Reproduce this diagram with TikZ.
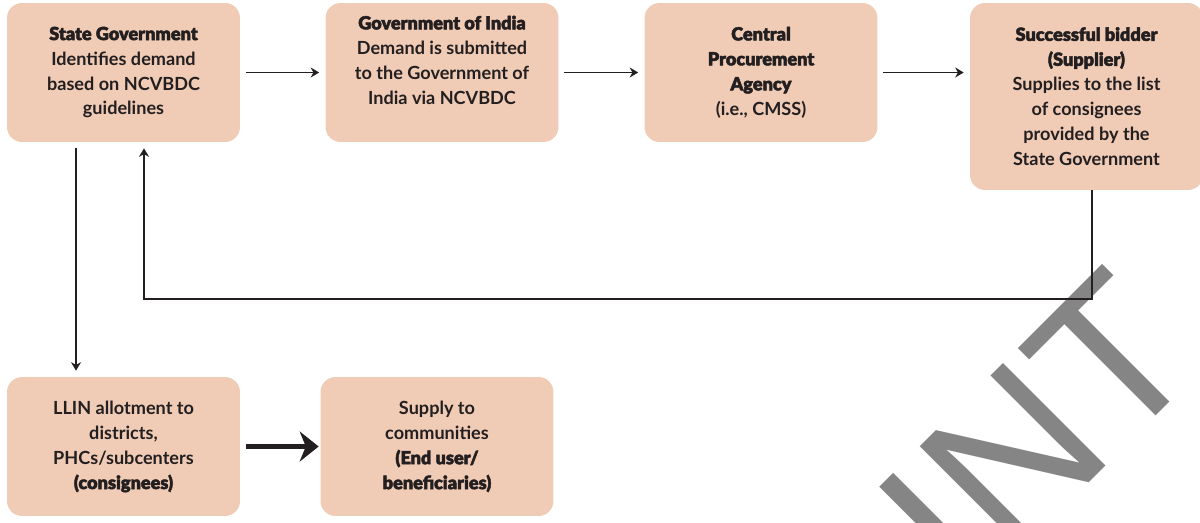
\documentclass[tikz,border=0pt]{standalone}
\usepackage{fontspec}
\setmainfont{Lato}[UprightFont={* Bold},BoldFont={* Black},BoldFeatures={FakeBold=2.5}]
\newfontfamily\markfont{Liberation Sans}
\usetikzlibrary{arrows.meta}
\definecolor{peach}{RGB}{240,203,181}
\definecolor{ink}{RGB}{35,31,32}
\definecolor{stampgray}{RGB}{133,133,133}
\tikzset{stagebox/.style={rounded corners=0.3cm,fill=peach,text=ink,align=center,
		inner sep=0pt,minimum width=4.66cm,minimum height=2.78cm,
		font=\fontsize{10.3}{14.2}\selectfont}}

\begin{document}
\begin{tikzpicture}[x=0.02cm,y=-0.02cm]
		\clip (0,0) rectangle (1200,522);
		\node[anchor=base east,rotate=45,text=stampgray,inner sep=0pt,
			font=\markfont\fontsize{120}{120}\selectfont] (stamp) at (1209,363) {INT};
		\begin{scope}[every node/.style={stagebox}]
			\node (state) at (123.5,72.5) {\textbf{State Government}\\Identifies demand\\based on NCVBDC\\guidelines};
			\node (goi) at (442,72.5) {\textbf{Government of India}\\Demand is submitted\\to the Government of\\India via NCVBDC\\ \mbox{}};
			\node (cpa) at (761,72.5) {\textbf{Central}\\\textbf{Procurement}\\\textbf{Agency}\\(i.e., CMSS)};
			\node[minimum height=3.74cm] (bidder) at (1086.5,96.5) {\textbf{Successful bidder}\\\textbf{(Supplier)}\\Supplies to the list\\of consignees\\provided by the\\State Government};
			\node (llin) at (123.5,446.5) {LLIN allotment to\\districts,\\PHCs/subcenters\\\textbf{(consignees)}};
			\node (supply) at (437,446.5) {Supply to\\communities\\\textbf{(End user/}\\\textbf{beneficiaries)}};
		\end{scope}
		\coordinate (turn) at (144,299);
		\begin{scope}[>={Stealth[length=0.17cm,width=0.2cm]},
			every edge/.style={draw=ink,line width=1.1pt,shorten <=0.11cm,shorten >=0.12cm}]
			\path [->] (state) edge (goi);
			\path [->] (goi) edge (cpa);
			\path [->] (cpa.east) edge (cpa.east -| bidder.west);
			\path [->] ([xshift=-0.95cm]state.south) edge ([xshift=-0.95cm]llin.north);
			\path [->] (llin) edge[line width=3pt,>={Stealth[length=0.38cm,width=0.6cm]},shorten >=0.03cm] (supply);
			\draw [->,ink,line width=1.1pt,shorten >=0.12cm] ([xshift=0.11cm]bidder.south) |- (turn) -- (turn |- state.south);
		\end{scope}
	\end{tikzpicture}
\end{document}
